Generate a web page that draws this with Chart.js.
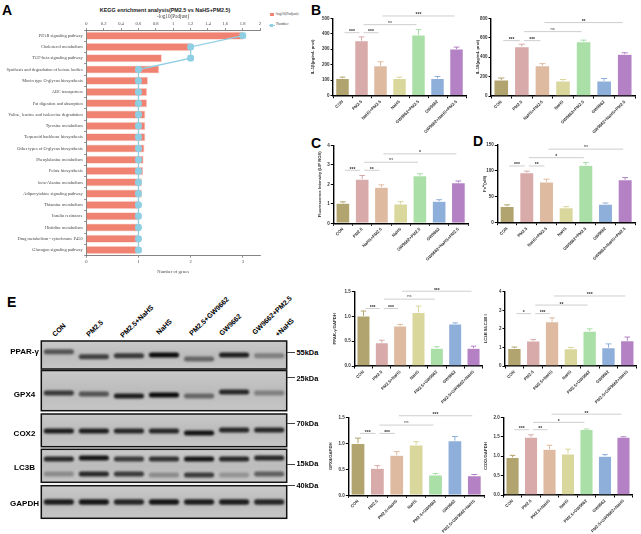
<!DOCTYPE html>
<html><head><meta charset="utf-8">
<script src="https://cdn.jsdelivr.net/npm/chart.js@4.4.0/dist/chart.umd.min.js"></script>
<style>
body{margin:0;background:#fff;width:641px;height:534px;overflow:hidden;position:relative;font-family:Arial,"Liberation Sans",sans-serif;}
canvas{position:absolute;}
.t{position:absolute;white-space:nowrap;}
</style></head><body>
<script>
// ---------------- DATA ----------------
const keggPathways = ['PPAR signaling pathway','Cholesterol metabolism','TGF-beta signaling pathway','Synthesis and degradation of ketone bodies','Mucin type O-glycan biosynthesis','ABC transporters','Fat digestion and absorption','Valine, leucine and isoleucine degradation','Tyrosine metabolism','Terpenoid backbone biosynthesis','Other types of O-glycan biosynthesis','Phenylalanine metabolism','Folate biosynthesis','beta-Alanine metabolism','Adipocytokine signaling pathway','Thiamine metabolism','Insulin resistance','Histidine metabolism','Drug metabolism - cytochrome P450','Glucagon signaling pathway'];
const keggLogP = [1.81,1.21,0.87,0.84,0.71,0.70,0.70,0.68,0.68,0.68,0.67,0.66,0.655,0.64,0.64,0.60,0.60,0.60,0.60,0.59];
const keggGenes = [3,2,2,1,1,1,1,1,1,1,1,1,1,1,1,1,1,1,1,1];

const groupsBCD = ['CON','PM2.5','NaHS+PM2.5','NaHS','GW9662+PM2.5','GW9662','GW9662+NaHS+PM2.5'];
const groupsE = ['CON','PM2.5','PM2.5+NaHS','NaHS','PM2.5+GW9662','GW9662','PM2.5+GW9662+NaHS'];
const groupColors = ['#B2A46E','#D9AAAA','#DEBBA0','#DAD79C','#AADFA7','#8EAFDA','#B381C4'];

const il1bMean = [112,355,194,112,392,112,302];
const il1bErr  = [8,25,25,8,35,12,12];
const il1bSig  = [[0,1,407,'***'],[1,2,407,'***'],[1,4,459,'ns'],[2,6,515,'***']];

const il18Mean = [165,508,313,155,560,155,430];
const il18Err  = [20,25,20,15,15,25,15];
const il18Sig  = [[0,1,570,'***'],[1,2,570,'***'],[1,4,663,'ns'],[2,6,756,'**']];

const rosMean = [1.03,2.27,1.85,0.99,2.44,1.13,2.09];
const rosErr  = [0.07,0.18,0.12,0.12,0.10,0.08,0.08];
const rosSig  = [[0,1,2.72,'***'],[1,2,2.72,'**'],[1,4,3.13,'ns'],[2,6,3.56,'*']];

const feMean = [31.5,96.5,79,29,111,36,83];
const feErr  = [3,3,5,2,5,2,4];
const feSig  = [[0,1,109.5,'***'],[1,2,109.5,'**'],[1,4,125.5,'*'],[2,6,142,'ns']];

const ppargMean = [1.01,0.47,0.81,1.08,0.36,0.85,0.36];
const ppargErr  = [0.10,0.05,0.03,0.13,0.03,0.02,0.04];
const ppargSig  = [[0,1,1.16,'***'],[1,2,1.16,'***'],[1,4,1.35,'ns'],[2,6,1.51,'***']];

const lc3Mean = [0.95,1.35,2.39,0.93,1.88,0.99,1.36];
const lc3Err  = [0.07,0.07,0.20,0.07,0.12,0.20,0.20];
const lc3Sig  = [[0,1,2.82,'*'],[1,2,2.82,'***'],[1,4,3.28,'**'],[2,6,3.77,'***']];

const gpx4Mean = [1.00,0.52,0.77,0.97,0.39,1.05,0.38];
const gpx4Err  = [0.10,0.05,0.07,0.06,0.03,0.08,0.02];
const gpx4Sig  = [[0,1,1.19,'***'],[1,2,1.19,'***'],[1,4,1.35,'ns'],[2,6,1.53,'***']];

const cox2Mean = [0.97,1.49,1.18,1.06,1.69,1.00,1.49];
const cox2Err  = [0.05,0.06,0.10,0.12,0.01,0.04,0.01];
const cox2Sig  = [[0,1,1.68,'***'],[1,2,1.68,'**'],[1,4,1.87,'*'],[2,6,2.08,'**']];

// western blot (band centre within blot, relative intensity)
const blotLanes = ['CON','PM2.5','PM2.5+NaHS','NaHS','PM2.5+GW9662','GW9662','GW9662+PM2.5 +NaHS'];
const blotStrips = [['PPAR-γ',1,29],['GPX4',30.5,70.7],['COX2',74,106.7],['LC3B',109.3,142.3],['GAPDH',145.7,178.3]];
const ppargBandY = [11.7,16.7,15.7,15,19,15,15.7];
const ppargBandI = [0.6,0.7,0.75,1.0,0.5,0.9,0.35];
const gpx4BandY = [53,54,56,55,56,52,53];
const gpx4BandI = [0.75,0.6,0.9,1.0,0.5,0.85,0.35];
const cox2BandY = [91,91,91,91,93,90,90];
const cox2BandI = [0.9,0.9,0.85,0.85,0.95,0.85,0.85];
const lc3UpY = [119,118,119,119,119,119,118];
const lc3UpI = [0.85,0.95,0.75,0.8,0.95,0.85,0.85];
const lc3LoY = [134,134,134,135,135,135,134];
const lc3LoI = [0.3,0.85,0.75,0.3,0.75,0.25,0.55];
const gapdhBandY = [162,162,162,162,162,162,162];
const gapdhBandI = [0.9,0.95,0.85,0.95,0.9,0.9,0.85];

// ---------------- HELPERS ----------------
function T(x, y, text, size, opts={}){
  const d=document.createElement('div'); d.className='t'; d.textContent=text;
  const fam = opts.family || 'Arial, "Liberation Sans", sans-serif';
  d.style.fontFamily=fam; d.style.fontSize=size+'px'; d.style.lineHeight=size+'px';
  d.style.fontWeight=opts.bold?'bold':'normal'; d.style.color=opts.color||'#000';
  const asc = 0.8465*size;
  d.style.top=(y-asc)+'px';
  if(opts.align==='center'){ d.style.left=x+'px'; d.style.transform='translateX(-50%)'; }
  else if(opts.align==='right'){ d.style.right=(641-x)+'px'; }
  else d.style.left=x+'px';
  if(opts.rot){ d.style.transformOrigin='0px '+asc+'px'; d.style.transform='rotate('+opts.rot+'deg)'; }
  document.body.appendChild(d); return d;
}
function C(l,t,w,h){ const c=document.createElement('canvas'); c.width=w; c.height=h; c.style.left=l+'px'; c.style.top=t+'px'; c.style.width=w+'px'; c.style.height=h+'px'; document.body.appendChild(c); return c; }
function box(l,t,w,h,css){ const d=document.createElement('div'); d.style.cssText='position:absolute;left:'+l+'px;top:'+t+'px;width:'+w+'px;height:'+h+'px;'+css; document.body.appendChild(d); return d; }

function errPlugin(errs){ return {id:'errbars', afterDatasetsDraw(chart){
  const meta=chart.getDatasetMeta(0), y=chart.scales.y, ctx=chart.ctx, ds=chart.data.datasets[0];
  ctx.save(); ctx.lineWidth=1;
  meta.data.forEach((bar,i)=>{ const v=ds.data[i]; const top=y.getPixelForValue(v+errs[i]); const w=bar.width*0.42;
    ctx.strokeStyle=groupColors[i]; ctx.beginPath(); ctx.moveTo(bar.x, y.getPixelForValue(v)); ctx.lineTo(bar.x, top);
    ctx.moveTo(bar.x-w/2, top); ctx.lineTo(bar.x+w/2, top); ctx.stroke(); });
  ctx.restore(); }}; }
function sigPlugin(sig){ return {id:'sig', afterDraw(chart){
  const x=chart.scales.x, y=chart.scales.y, ctx=chart.ctx;
  ctx.save();
  sig.forEach(([a,b,v,t])=>{ const yy=y.getPixelForValue(v); const x1=x.getPixelForValue(a)+2, x2=x.getPixelForValue(b)-2;
    ctx.strokeStyle='#c8c8c8'; ctx.lineWidth=0.9; ctx.beginPath(); ctx.moveTo(x1,yy); ctx.lineTo(x2,yy); ctx.stroke();
    ctx.fillStyle='#333'; ctx.font=(t==='ns'?'4px':'bold 5px')+' Arial'; ctx.textAlign='center'; ctx.textBaseline='alphabetic';
    ctx.fillText(t,(x1+x2)/2, t==='ns'? yy-2 : yy+0.5); });
  ctx.restore(); }}; }

function makeBar(cfg){
  const left=Math.floor(cfg.caL-cfg.yW), yW=cfg.caL-left;
  const top=Math.floor(cfg.caT-14), padTop=cfg.caT-top;
  const width=Math.ceil(cfg.caR-left+3), padRight=width-(cfg.caR-left);
  const height=Math.ceil(cfg.caB+46-top), xH=height-(cfg.caB-top);
  const cv=C(left,top,width,height);
  new Chart(cv,{type:'bar',
    data:{labels:cfg.labels,datasets:[{data:cfg.means,backgroundColor:groupColors,borderColor:'rgba(255,255,255,0.5)',borderWidth:0.6,barPercentage:0.72,categoryPercentage:1}]},
    options:{responsive:false,animation:false,events:[],
      layout:{padding:{top:padTop,right:padRight,left:0,bottom:0}},
      plugins:{legend:{display:false},tooltip:{enabled:false}},
      scales:{
        x:{type:'category',offset:true,
          grid:{display:true,drawOnChartArea:false,drawTicks:true,tickLength:2.5,color:'#000',lineWidth:1},
          border:{display:true,color:'#000',width:1.4},
          ticks:{autoSkip:false,minRotation:45,maxRotation:45,font:{size:4.2,family:'Arial',weight:'bold'},color:'#333',padding:1},
          afterFit:s=>{s.height=xH;}},
        y:{min:0,max:cfg.max,
          ticks:{stepSize:cfg.step,font:{size:4.5,family:'Arial',weight:'bold'},color:'#333',padding:1,callback:v=>cfg.dec?v.toFixed(cfg.dec):v},
          grid:{drawOnChartArea:false,tickLength:2.5,color:'#000',lineWidth:1},
          border:{color:'#000',width:1.4},
          title:{display:true,text:cfg.title,font:{size:4.2,family:'Arial',weight:'bold'},color:'#333',padding:0},
          afterFit:s=>{s.width=yW;}}
      }},
    plugins:[errPlugin(cfg.errs),sigPlugin(cfg.sig)]});
}

// ---------------- PANEL LETTERS ----------------
T(2,15,'A',14,{bold:true}); T(311,15,'B',14,{bold:true}); T(311,148,'C',14,{bold:true});
T(473,146,'D',14,{bold:true}); T(7,306.5,'E',14,{bold:true});

// ---------------- PANEL A ----------------
T(165,13,'KEGG enrichment analysis(PM2.5 vs NaHS+PM2.5)',5.4,{bold:true,align:'center',color:'#222'});
box(269.5,13.3,4,3,'background:#F08272;');
T(275,16,'-log10(Padjust)',3.8,{family:'"Liberation Serif",serif',color:'#444'});
box(268.5,24.8,6,0.8,'background:#8ECFE3;');
box(270,23.7,3,3,'background:#8ECFE3;');
T(276,26.5,'Number',3.8,{family:'"Liberation Serif",serif',color:'#444'});
(function(){
  const cv=C(0,14,266,261);
  new Chart(cv,{
    data:{labels:keggPathways,datasets:[
      {type:'line',label:'Number',data:keggGenes,xAxisID:'xb',yAxisID:'y',indexAxis:'y',borderColor:'#8ECFE3',backgroundColor:'#8ECFE3',borderWidth:1.3,pointStyle:'rectRounded',pointRadius:3.2,order:0},
      {type:'bar',label:'-log10(Padjust)',data:keggLogP,xAxisID:'xt',yAxisID:'y',indexAxis:'y',backgroundColor:'#F08272',borderColor:'#FAD2CA',borderWidth:0.8,barPercentage:0.72,categoryPercentage:1,order:1}
    ]},
    options:{indexAxis:'y',responsive:false,animation:false,events:[],
      layout:{padding:{right:6,top:0,bottom:0,left:0}},
      plugins:{legend:{display:false},tooltip:{enabled:false}},
      scales:{
        y:{type:'category',position:'left',offset:true,
          grid:{drawOnChartArea:false,tickLength:2.2,color:'#666',lineWidth:0.7},border:{color:'#666',width:0.8},
          ticks:{autoSkip:false,font:{family:'"Liberation Serif",serif',size:4.4},color:'#444',padding:1.5},
          afterFit:s=>{s.width=86.3;}},
        xt:{type:'linear',position:'top',min:0,max:2,
          ticks:{stepSize:0.2,font:{family:'"Liberation Serif",serif',size:4.6},color:'#444',padding:1,callback:v=>+v.toFixed(1)},
          grid:{drawOnChartArea:false,tickLength:2,color:'#666',lineWidth:0.7},border:{color:'#666',width:0.8},
          title:{display:true,text:'-log10(Padjust)',font:{family:'"Liberation Serif",serif',size:5.2},color:'#444',padding:{top:0,bottom:1}},
          afterFit:s=>{s.height=16;}},
        xb:{type:'linear',position:'bottom',min:0,max:3.33,
          afterBuildTicks:s=>{s.ticks=s.ticks.filter(t=>Number.isInteger(t.value));},
          ticks:{stepSize:1,font:{family:'"Liberation Serif",serif',size:4.6},color:'#444',padding:1},
          grid:{drawOnChartArea:false,tickLength:2,color:'#666',lineWidth:0.7},border:{color:'#666',width:0.8},
          title:{display:true,text:'Number of genes',font:{family:'"Liberation Serif",serif',size:4.6},color:'#444',padding:{top:2,bottom:0}},
          afterFit:s=>{s.height=19.3;}}
      }}
  });
})();

// ---------------- PANELS B, C, D ----------------
makeBar({caL:333,caR:466,caT:18.3,caB:95.7,yW:23,labels:groupsBCD,means:il1bMean,errs:il1bErr,sig:il1bSig,max:500,step:100,title:'IL-1β(pg/mL prot)'});
makeBar({caL:491,caR:635,caT:18.3,caB:96,yW:16,labels:groupsBCD,means:il18Mean,errs:il18Err,sig:il18Sig,max:800,step:200,title:'IL-18(pg/mL prot)'});
makeBar({caL:333.3,caR:468,caT:145.3,caB:223.3,yW:15.5,labels:groupsBCD,means:rosMean,errs:rosErr,sig:rosSig,max:4,step:1,title:'Fluorescence Intensity (LIP ROS)'});
makeBar({caL:497.3,caR:635,caT:145,caB:222.7,yW:15,labels:groupsBCD,means:feMean,errs:feErr,sig:feSig,max:150,step:50,title:'Fe²⁺(nM)'});

// ---------------- PANEL E charts ----------------
makeBar({caL:354.3,caR:482.7,caT:291.7,caB:366,yW:22,labels:groupsE,means:ppargMean,errs:ppargErr,sig:ppargSig,max:1.5,step:0.5,dec:1,title:'PPAR-γ/GAPDH'});
makeBar({caL:505,caR:636.7,caT:291.7,caB:366,yW:22,labels:groupsE,means:lc3Mean,errs:lc3Err,sig:lc3Sig,max:4,step:1,title:'LC3B II/LC3B I'});
makeBar({caL:348.3,caR:484,caT:417.3,caB:495.3,yW:19.5,labels:groupsE,means:gpx4Mean,errs:gpx4Err,sig:gpx4Sig,max:1.5,step:0.5,dec:1,title:'GPX4/GAPDH'});
makeBar({caL:503.3,caR:632.7,caT:417.3,caB:495,yW:19.5,labels:groupsE,means:cox2Mean,errs:cox2Err,sig:cox2Sig,max:2,step:0.5,dec:1,title:'COX2/GAPDH'});

// ---------------- WESTERN BLOT ----------------
(function(){
  const cv=C(40,340,248,180);
  const band=(ys,h)=>ys.map(c=>[c-h/2,c+h/2]);
  const col=(ints)=>ints.map(a=>'rgba(12,12,12,'+a+')');
  const stripPlugin={id:'strips',
    beforeDatasetsDraw(chart){ const ctx=chart.ctx,y=chart.scales.y,a=chart.chartArea; ctx.save();
      blotStrips.forEach(([n,t,b])=>{ const y1=y.getPixelForValue(t),y2=y.getPixelForValue(b);
        const g=ctx.createLinearGradient(0,y1,0,y2); g.addColorStop(0,'#c9c9c9'); g.addColorStop(0.5,'#bcbcbc'); g.addColorStop(1,'#c6c6c6');
        ctx.fillStyle=g; ctx.fillRect(a.left,y1,a.right-a.left,y2-y1); });
      ctx.restore(); ctx.save(); ctx.filter='blur(1.3px)'; },
    afterDatasetsDraw(chart){ chart.ctx.restore(); const ctx=chart.ctx,y=chart.scales.y,a=chart.chartArea; ctx.save();
      ctx.strokeStyle='#111'; ctx.lineWidth=1.5;
      blotStrips.forEach(([n,t,b])=>{ const y1=y.getPixelForValue(t),y2=y.getPixelForValue(b); ctx.strokeRect(a.left,y1,a.right-a.left,y2-y1); });
      ctx.restore(); }};
  const ds=(ys,ints,h)=>({data:band(ys,h),backgroundColor:col(ints),borderSkipped:false,borderRadius:3,barPercentage:0.86,categoryPercentage:1,grouped:false});
  new Chart(cv,{type:'bar',
    data:{labels:blotLanes,datasets:[ds(ppargBandY,ppargBandI,5),ds(gpx4BandY,gpx4BandI,5),ds(cox2BandY,cox2BandI,5),ds(lc3UpY,lc3UpI,5),ds(lc3LoY,lc3LoI,5),ds(gapdhBandY,gapdhBandI,5.5)]},
    options:{responsive:false,animation:false,events:[],layout:{padding:{left:1.3,right:1.3,top:0,bottom:0}},
      plugins:{legend:{display:false},tooltip:{enabled:false}},
      scales:{x:{display:false,offset:true},y:{display:false,min:0,max:180,reverse:true}}},
    plugins:[stripPlugin]});
})();
// blot labels
[['CON',55,337],['PM2.5',89,337],['PM2.5+NaHS',123,338],['NaHS',159,335],['PM2.5+GW9662',192,336],['GW9662',222,336],['GW9662+PM2.5',255,335],['+NaHS',278,337]]
  .forEach(([s,x,y])=>T(x,y,s,7,{bold:true,rot:-44}));
[['PPAR-γ',355],['GPX4',398],['COX2',436.5],['LC3B',470.5],['GAPDH',506.5]].forEach(([s,y])=>T(24.5,y,s,8,{bold:true,align:'center'}));
[['55kDa',355,352],['25kDa',381,377.5],['70kDa',426,423],['15kDa',466.7,464.3],['40kDa',488.3,485.3]].forEach(([s,y,dy])=>{
  T(296.5,y,s,7.4,{bold:true}); box(287,dy-0.5,8,1,'background:#444;'); });
</script>
</body></html>
